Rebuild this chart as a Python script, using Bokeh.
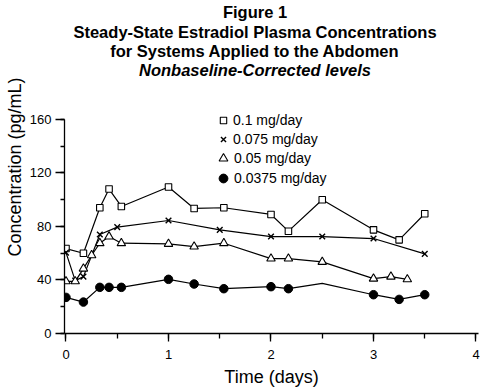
from bokeh.plotting import figure
from bokeh.models import (Range1d, LinearAxis, SingleIntervalTicker, Label,
                          Legend, LegendItem)
from bokeh.core.properties import value
from bokeh.embed import file_html
from bokeh.resources import INLINE

FONT = "Liberation Sans"

# ---- data (time in days, concentration in pg/mL) ----
sq_x = [0, 0.17, 0.33, 0.42, 0.54, 1.0, 1.25, 1.54, 2.0, 2.17, 2.5, 3.0, 3.25, 3.5]
sq_y = [63.5, 60, 94, 108, 95, 109.5, 93.5, 94, 89, 76.5, 100, 77.5, 70, 89.5]

cr_x = [0, 0.09, 0.17, 0.33, 0.5, 1.0, 1.5, 2.0, 2.5, 3.0, 3.5]
cr_y = [60.5, 39.5, 42.5, 74, 79.5, 84.5, 77.5, 72.5, 72.5, 71, 59.5]

tr_x = [0, 0.09, 0.17, 0.25, 0.33, 0.42, 0.54, 1.0, 1.25, 1.54, 2.0, 2.17, 2.5, 3.0, 3.17, 3.33]
tr_y = [39, 39, 48.5, 58.5, 67.5, 72.5, 67.5, 67, 65, 67.5, 56, 56, 53.5, 41, 42.5, 40.5]

ci_x = [0, 0.17, 0.33, 0.42, 0.54, 1.0, 1.25, 1.54, 2.0, 2.17, 2.5, 3.0, 3.25, 3.5]
ci_y = [27, 23.5, 34.5, 34.5, 34.5, 40.5, 37, 33.5, 35, 33.5, 37.5, 29, 25.5, 29]
ci_marked = [True, True, True, True, True, True, True, True, True, True, False, True, True, True]

labels = ["0.1 mg/day", "0.075 mg/day", "0.05 mg/day", "0.0375 mg/day"]
title_lines = ["Figure 1",
               "Steady-State Estradiol Plasma Concentrations",
               "for Systems Applied to the Abdomen",
               "Nonbaseline-Corrected levels"]
x_title = "Time (days)"
y_title = "Concentration (pg/mL)"

# frame runs from the top of the canvas down to the x axis; titles live inside it
p = figure(frame_width=414, frame_height=333,
           x_range=Range1d(-0.0146, 4.0244), y_range=Range1d(0, 248.97),
           output_backend="svg", toolbar_location=None,
           x_axis_type=None, y_axis_type=None,
           min_border_left=64, min_border_right=2,
           min_border_top=0, min_border_bottom=55)
p.outline_line_color = None
p.background_fill_color = "white"
p.border_fill_color = "white"

def style_axis(ax, tick_out, minor_out, standoff):
    ax.axis_line_width = 1.3
    ax.axis_line_color = "black"
    ax.major_tick_line_width = 1.3
    ax.minor_tick_line_width = 1.3
    ax.major_tick_line_color = "black"
    ax.minor_tick_line_color = "black"
    ax.major_tick_in = 0
    ax.minor_tick_in = 0
    ax.major_tick_out = tick_out
    ax.minor_tick_out = minor_out
    ax.major_label_standoff = standoff
    ax.major_label_text_font = FONT
    ax.major_label_text_font_size = "13px"
    ax.major_label_text_color = "black"
    ax.axis_label_text_font = FONT
    ax.axis_label_text_font_size = "18px"
    ax.axis_label_text_font_style = "normal"
    ax.axis_label_text_color = "black"

xaxis = LinearAxis(ticker=SingleIntervalTicker(interval=1, num_minor_ticks=2),
                   axis_label=x_title, axis_label_standoff=5)
style_axis(xaxis, 8, 5, 8)
p.add_layout(xaxis, "below")

yaxis = LinearAxis(ticker=SingleIntervalTicker(interval=40, num_minor_ticks=2), bounds=(0, 160),
                   axis_label=y_title, axis_label_standoff=2)
style_axis(yaxis, 9, 4, 4)
p.add_layout(yaxis, "left")

LW = 1.2
p.line(sq_x, sq_y, line_color="black", line_width=LW)
p.line(cr_x, cr_y, line_color="black", line_width=LW)
p.line(tr_x, tr_y, line_color="black", line_width=LW)
p.line(ci_x, ci_y, line_color="black", line_width=LW)

r_sq = p.scatter(sq_x, sq_y, marker="square", size=6.5, fill_color="white", line_color="black", line_width=1.1)
r_cr = p.scatter(cr_x, cr_y, marker="x", size=8, line_color="black", line_width=1.4)
r_tr = p.scatter(tr_x, tr_y, marker="triangle", size=8.5, fill_color="white", line_color="black", line_width=1.1)
mx = [x for x, m in zip(ci_x, ci_marked) if m]
my = [y for y, m in zip(ci_y, ci_marked) if m]
r_ci = p.scatter(mx, my, marker="circle", size=8.5, fill_color="black", line_color="black")

# one legend per entry, so each marker keeps its own size
leg_specs = [
    (r_sq, labels[0], 16, 16, (151, 205), 2),
    (r_cr, labels[1], 18, 18, (150, 184.7), 1),
    (r_tr, labels[2], 22, 22, (148, 163.7), -1),
    (r_ci, labels[3], 22, 22, (148, 144.3), -1),
]
for rend, lab, gw, gh, loc, so in leg_specs:
    leg = Legend(items=[LegendItem(label=value(lab), renderers=[rend])],
                 location=loc, padding=0, margin=0, spacing=0,
                 glyph_width=gw, glyph_height=gh, label_height=gh,
                 label_standoff=so, border_line_color=None,
                 background_fill_alpha=0,
                 label_text_font=FONT, label_text_font_size="14px",
                 label_text_color="black")
    p.add_layout(leg)

# title lines, placed in screen units from the frame's bottom-left corner
title_sy = [321.2, 301.8, 282.6, 263.4]
for i, (txt, ty) in enumerate(zip(title_lines, title_sy)):
    p.add_layout(Label(x=190.5, y=ty, x_units="screen", y_units="screen", text=txt,
                       text_font=FONT, text_font_size="16.5px",
                       text_font_style="bold italic" if i == 3 else "bold",
                       text_align="center", text_baseline="middle", text_color="black"))

open("out.html", "w").write(file_html(p, INLINE))
